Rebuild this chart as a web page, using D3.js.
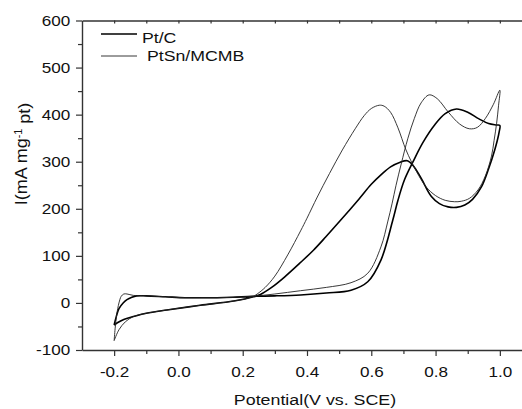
<!DOCTYPE html>
<html>
<head>
<meta charset="utf-8">
<script src="https://cdn.jsdelivr.net/npm/d3@7"></script>
<style>
  body { margin: 0; background: #fff; }
  svg text { font-family: "Liberation Sans", Arial, Helvetica, sans-serif; fill: #111; }
</style>
</head>
<body>
<script>
// tick values
const potentialTicks = [-0.2, 0.0, 0.2, 0.4, 0.6, 0.8, 1.0];
const potentialMinor = [-0.1, 0.1, 0.3, 0.5, 0.7, 0.9];
const currentTicks = [-100, 0, 100, 200, 300, 400, 500, 600];
const currentMinor = [-50, 50, 150, 250, 350, 450, 550];

// [potential V, current mA/mg Pt], anodic sweep then cathodic sweep
const ptcForward = [
  [-0.200, -47], [-0.193, -28], [-0.185, -12], [-0.172, 0], [-0.160, 7], [-0.145, 12],
  [-0.130, 15], [-0.100, 15], [-0.040, 13], [0.020, 11], [0.070, 11], [0.120, 11],
  [0.170, 12], [0.230, 14], [0.300, 15], [0.380, 17], [0.460, 21], [0.537, 27],
  [0.589, 45], [0.630, 91], [0.667, 176], [0.683, 218], [0.703, 261], [0.730, 300],
  [0.760, 340], [0.797, 378], [0.830, 402], [0.865, 412], [0.900, 405], [0.935, 391],
  [0.965, 381], [0.990, 378], [1.000, 377]
];
const ptcReverse = [
  [1.000, 377], [0.998, 364], [0.992, 345], [0.984, 325], [0.965, 285], [0.943, 247],
  [0.915, 220], [0.891, 208], [0.865, 203], [0.839, 204], [0.812, 211], [0.787, 226],
  [0.755, 265], [0.730, 292], [0.712, 302], [0.690, 299], [0.660, 289], [0.630, 272],
  [0.600, 252], [0.562, 221], [0.505, 176], [0.458, 140], [0.420, 112], [0.380, 86],
  [0.330, 55], [0.290, 33], [0.255, 18], [0.234, 13], [0.172, 4], [0.068, -5],
  [-0.036, -15], [-0.100, -22], [-0.140, -29], [-0.170, -35], [-0.190, -42], [-0.200, -47]
];
const ptsnForward = [
  [-0.200, -80], [-0.197, -55], [-0.192, -25], [-0.185, 0], [-0.178, 14], [-0.170, 19],
  [-0.160, 19], [-0.140, 16], [-0.100, 15], [-0.040, 13], [0.020, 11], [0.070, 11],
  [0.120, 11], [0.170, 12], [0.230, 14], [0.300, 19], [0.380, 26], [0.460, 33],
  [0.537, 43], [0.589, 63], [0.630, 119], [0.651, 172], [0.665, 212], [0.677, 250],
  [0.693, 295], [0.714, 350], [0.734, 392], [0.755, 425], [0.780, 442], [0.805, 434],
  [0.840, 405], [0.875, 380], [0.905, 370], [0.930, 373], [0.955, 392], [0.980, 422],
  [1.000, 452]
];
const ptsnReverse = [
  [1.000, 452], [0.996, 420], [0.990, 382], [0.982, 345], [0.974, 312], [0.955, 270],
  [0.932, 240], [0.905, 222], [0.880, 216], [0.859, 215], [0.830, 218], [0.800, 228],
  [0.770, 247], [0.740, 280], [0.708, 325], [0.683, 372], [0.660, 405], [0.640, 418],
  [0.625, 420], [0.600, 413], [0.578, 398], [0.550, 370], [0.510, 325], [0.470, 275],
  [0.432, 225], [0.400, 180], [0.380, 153], [0.340, 102], [0.300, 57], [0.270, 33],
  [0.245, 19], [0.230, 13], [0.172, 4], [0.068, -5], [-0.036, -15], [-0.100, -22],
  [-0.140, -29], [-0.165, -40], [-0.185, -57], [-0.200, -80]
];

const series = [
  { name: 'Pt/C', points: ptcForward.concat(ptcReverse.slice(1)), width: 1.6, color: '#000' },
  { name: 'PtSn/MCMB', points: ptsnForward.concat(ptsnReverse.slice(1)), width: 0.9, color: '#222' }
];

const W = 522, H = 409;
const svg = d3.select('body').append('svg')
    .attr('width', W)
    .attr('height', H);

const x = d3.scaleLinear().domain([-0.3, 1.1]).range([82, 532]);
const y = d3.scaleLinear().domain([-100, 600]).range([350, 20.5]);

// stretch text a bit horizontally, the original font runs wide
const widen = (sel, k) => sel.attr('transform', `scale(${k},1)`);

const axisColor = '#333';

// bottom axis
const gx = svg.append('g').attr('transform', `translate(0,${y(-100)})`);
gx.call(d3.axisBottom(x).tickValues(potentialTicks).tickFormat(d => d.toFixed(1))
    .tickSize(6).tickPadding(11).tickSizeOuter(0));
gx.selectAll('text').style('font-size', '14.5px').attr('dy', '0.71em').call(widen, 1.18);
svg.append('g').attr('transform', `translate(0,${y(-100)})`)
    .call(d3.axisBottom(x).tickValues(potentialMinor).tickFormat('').tickSize(4).tickSizeOuter(0))
    .select('.domain').remove();

// top axis, small inward ticks only
svg.append('g').attr('transform', `translate(0,${y(600)})`)
    .call(d3.axisBottom(x).tickValues(d3.range(-2, 11).map(i => i / 10)).tickFormat('')
        .tickSize(3).tickSizeOuter(0));

// left axis
const gy = svg.append('g').attr('transform', `translate(${x(-0.3)},0)`);
gy.call(d3.axisLeft(y).tickValues(currentTicks).tickFormat(d => String(d))
    .tickSize(6).tickPadding(4).tickSizeOuter(0));
gy.selectAll('text').style('font-size', '14.5px').call(widen, 1.18);
svg.append('g').attr('transform', `translate(${x(-0.3)},0)`)
    .call(d3.axisLeft(y).tickValues(currentMinor).tickFormat('').tickSize(4).tickSizeOuter(0))
    .select('.domain').remove();

svg.selectAll('.domain').attr('stroke', axisColor).attr('stroke-width', 1.4);
svg.selectAll('.tick line').attr('stroke', axisColor).attr('stroke-width', 1.2);

// axis titles
svg.append('text')
    .attr('transform', `translate(315,405) scale(1.15,1)`)
    .attr('text-anchor', 'middle')
    .style('font-size', '15.5px')
    .text('Potential(V vs. SCE)');

const yl = svg.append('text')
    .attr('transform', 'translate(27,154) rotate(-90) scale(1.2,1.15)')
    .attr('text-anchor', 'middle')
    .style('font-size', '15px');
yl.append('tspan').text('I(mA mg');
yl.append('tspan').attr('dy', '-0.45em').style('font-size', '9px').text('-1');
yl.append('tspan').attr('dy', '0.45em').text(' pt)');

// curves
const line = d3.line()
    .x(d => x(d[0]))
    .y(d => y(d[1]))
    .curve(d3.curveCatmullRom.alpha(0.5));

svg.append('g').selectAll('path')
    .data(series)
    .join('path')
    .attr('d', d => line(d.points))
    .attr('fill', 'none')
    .attr('stroke', d => d.color)
    .attr('stroke-width', d => d.width)
    .attr('stroke-linejoin', 'round');

// legend
const legend = svg.append('g');
const legendRows = [
  { s: series[0], ly: 34, tx: 142, ty: 43 },
  { s: series[1], ly: 56, tx: 147, ty: 61 }
];
legend.selectAll('line')
    .data(legendRows)
    .join('line')
    .attr('x1', 101).attr('x2', 137)
    .attr('y1', d => d.ly).attr('y2', d => d.ly)
    .attr('stroke', d => d.s.color)
    .attr('stroke-width', d => d.s.width);
legend.selectAll('text')
    .data(legendRows)
    .join('text')
    .attr('transform', d => `translate(${d.tx},${d.ty}) scale(1.18,1)`)
    .style('font-size', '15px')
    .text(d => d.s.name);
</script>
</body>
</html>
